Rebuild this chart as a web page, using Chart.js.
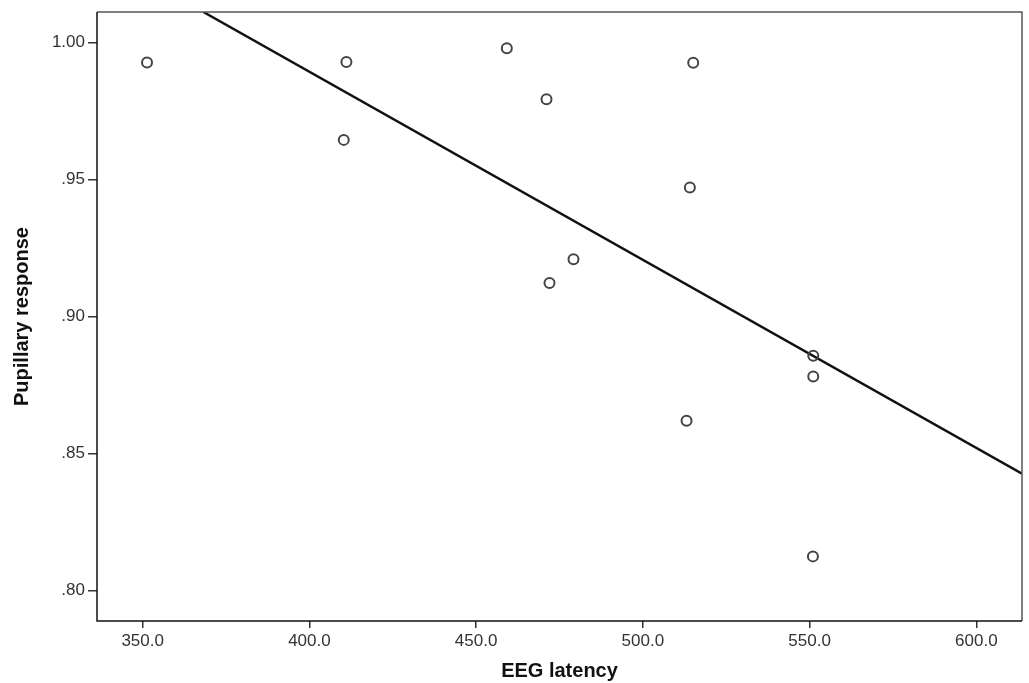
<!DOCTYPE html>
<html>
<head>
<meta charset="utf-8">
<script src="https://cdn.jsdelivr.net/npm/chart.js@4.4.1/dist/chart.umd.min.js"></script>
<style>
  html, body { margin: 0; padding: 0; background: #fff; overflow: hidden; }
  canvas { display: block; }
</style>
</head>
<body>
<canvas id="scatterChart" width="1029" height="683"></canvas>
<script>
// Datos
var eegLatency = [351.3, 411.1, 410.3, 459.2, 515.1, 471.1, 514.1, 479.2, 472.0, 551.1, 551.1, 513.1, 551.0];
var pupillaryResponse = [0.9928, 0.9929, 0.9645, 0.9980, 0.9927, 0.9793, 0.9471, 0.9209, 0.9122, 0.8857, 0.8781, 0.8619, 0.8124];

// Recta de ajuste (extremos)
var fitX = [368.2, 613.7];
var fitY = [1.0112, 0.8426];

var xTicks = [350, 400, 450, 500, 550, 600];
var yTicks = [0.80, 0.85, 0.90, 0.95, 1.00];

var puntos = eegLatency.map(function (x, i) { return { x: x, y: pupillaryResponse[i] }; });
var recta = fitX.map(function (x, i) { return { x: x, y: fitY[i] }; });

// Marco alrededor del area de la grafica
var marco = {
    id: 'marco',
    afterDraw: function (chart) {
        var a = chart.chartArea;
        var ctx = chart.ctx;
        ctx.save();
        ctx.lineWidth = 1.5;
        ctx.strokeStyle = '#555';
        ctx.beginPath();
        ctx.moveTo(a.left, a.top);
        ctx.lineTo(a.right, a.top);
        ctx.lineTo(a.right, a.bottom);
        ctx.stroke();
        ctx.strokeStyle = '#111';
        ctx.beginPath();
        ctx.moveTo(a.left, a.top);
        ctx.lineTo(a.left, a.bottom);
        ctx.lineTo(a.right, a.bottom);
        ctx.stroke();
        ctx.restore();
    }
};

var ctx = document.getElementById('scatterChart').getContext('2d');
var chart = new Chart(ctx, {
    type: 'scatter',
    data: {
        datasets: [
            {
                label: 'Pupillary response',
                data: puntos,
                pointRadius: 5,
                pointBorderWidth: 2,
                pointBackgroundColor: 'rgba(255,255,255,0)',
                pointBorderColor: '#444',
                showLine: false
            },
            {
                label: 'Fit',
                data: recta,
                type: 'line',
                showLine: true,
                pointRadius: 0,
                borderColor: '#111',
                borderWidth: 2.5,
                fill: false
            }
        ]
    },
    plugins: [marco],
    options: {
        responsive: false,
        animation: false,
        devicePixelRatio: 1,
        layout: { padding: { left: 0, right: 3, top: 12, bottom: 0 } },
        plugins: {
            legend: { display: false },
            tooltip: { enabled: false }
        },
        scales: {
            x: {
                type: 'linear',
                min: 336.3,
                max: 613.7,
                afterBuildTicks: function (axis) {
                    axis.ticks = xTicks.map(function (v) { return { value: v }; });
                },
                afterFit: function (axis) {
                    axis.height = 62;
                    axis.paddingLeft = 0;
                    axis.paddingRight = 0;
                },
                border: { display: false },
                grid: { drawOnChartArea: false, drawTicks: true, tickLength: 7, color: '#333', lineWidth: 1.5 },
                ticks: {
                    padding: 3,
                    color: '#333',
                    font: { family: 'Liberation Sans, Arial', size: 17 },
                    callback: function (value) { return Number(value).toFixed(1); }
                },
                title: {
                    display: true,
                    text: 'EEG latency',
                    color: '#111',
                    padding: { top: 4, bottom: 0 },
                    font: { family: 'Liberation Sans, Arial', size: 20, weight: 'bold' }
                }
            },
            y: {
                type: 'linear',
                min: 0.7888,
                max: 1.0112,
                afterBuildTicks: function (axis) {
                    axis.ticks = yTicks.map(function (v) { return { value: v }; });
                },
                afterFit: function (axis) {
                    axis.width = 97;
                    axis.paddingTop = 0;
                    axis.paddingBottom = 0;
                },
                border: { display: false },
                grid: { drawOnChartArea: false, drawTicks: true, tickLength: 9, color: '#333', lineWidth: 1.5 },
                ticks: {
                    padding: 3,
                    color: '#333',
                    font: { family: 'Liberation Sans, Arial', size: 17 },
                    callback: function (value) { return Number(value).toFixed(2).replace(/^0/, ''); }
                },
                title: {
                    display: true,
                    text: 'Pupillary response',
                    color: '#111',
                    padding: { top: 10, bottom: 4 },
                    font: { family: 'Liberation Sans, Arial', size: 20, weight: 'bold' }
                }
            }
        }
    }
});
</script>
</body>
</html>
